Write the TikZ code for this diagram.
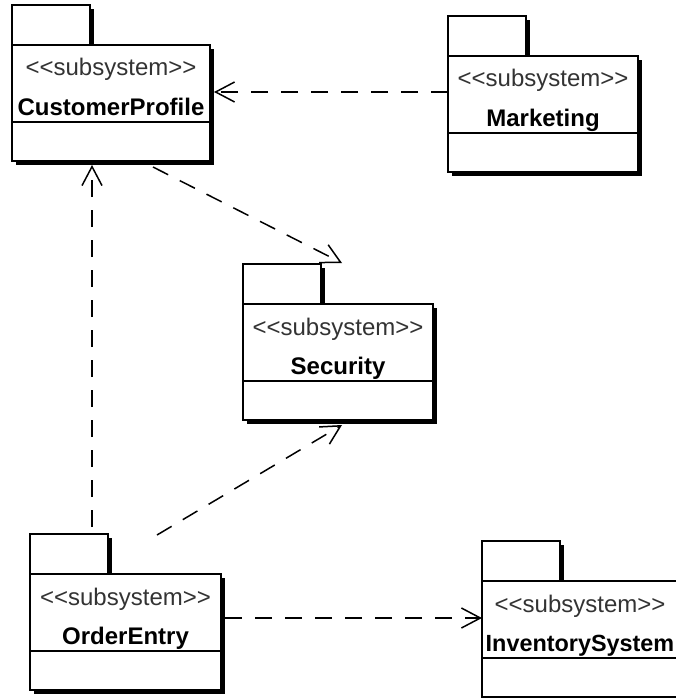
\documentclass[tikz,border=0pt]{standalone}
\usepackage{fontspec}
\newfontfamily\uifont{Liberation Sans}
\usetikzlibrary{arrows.meta}
\tikzset{
  pkgline/.style={draw=black, line width=1.5pt, fill=white, inner sep=0pt, outer sep=0pt},
  tabbox/.style={pkgline, minimum width=78pt, minimum height=40pt},
  pkgbox/.style={pkgline, minimum height=116pt},
  shadowfill/.style={fill=black},
  stereo/.style={font=\uifont\fontsize{24}{28}\selectfont, text=black!80, inner sep=0pt},
  pkgname/.style={font=\uifont\bfseries\fontsize{24}{28}\selectfont, text=black, inner sep=0pt},
  dep/.style={draw=black, line width=1.5pt, dash pattern=on 17pt off 13pt,
    -{Straight Barb[length=19pt,width=20pt,line width=1.5pt]}},
}
% #1 name, #2 left x, #3 body top y, #4 width, #5 label
\newcommand{\umlpkg}[5]{%
  \fill[shadowfill] (#2+4,#3-36) rectangle (#2+82,#3+4);
  \fill[shadowfill] (#2+4,#3+4) rectangle (#2+#4+4,#3+120);
  \node[tabbox, anchor=south west] (#1tab) at (#2,#3) {};
  \node[pkgbox, minimum width=#4pt, anchor=north west] (#1) at (#2,#3) {};
  \draw[line width=1.2pt] (#2,#3+77) -- (#2+#4,#3+77);
  \node[stereo, anchor=base] (#1st) at (#2+#4/2,#3+31) {<<subsystem>>};
  \node[pkgname, anchor=base] (#1nm) at (#2+#4/2,#3+70) {#5};
}
\begin{document}
\begin{tikzpicture}[x=1pt,y=-1pt]
\useasboundingbox (0,0) rectangle (676,698);
\clip (0,0) rectangle (676,698);
\fill[white] (0,0) rectangle (676,698);
\umlpkg{cp}{12}{45}{198}{CustomerProfile}
\umlpkg{mkt}{448}{56}{190}{Marketing}
\umlpkg{sec}{243}{304}{190}{Security}
\umlpkg{oe}{30}{574}{191}{OrderEntry}
\umlpkg{inv}{482}{581}{196}{\fontsize{23.4}{28}\selectfont InventorySystem}
% dependencies
\draw[dep] ([yshift=-36pt]mkt.north west) -- ([xshift=4pt,yshift=-47pt]cp.north east);
\draw[dep] ([xshift=141pt,yshift=-6pt]cp.south west) -- ([xshift=99pt,yshift=41pt]sec.north west);
\draw[dep] ([xshift=62pt,yshift=7pt]oetab.north west) -- ([xshift=80pt,yshift=-4pt]cp.south west);
\draw[dep] ([xshift=127pt,yshift=39pt]oe.north west) -- ([xshift=99pt,yshift=-5pt]sec.south west);
\draw[dep] ([xshift=4pt,yshift=-44pt]oe.north east) -- ([yshift=-37pt]inv.north west);
\end{tikzpicture}
\end{document}
